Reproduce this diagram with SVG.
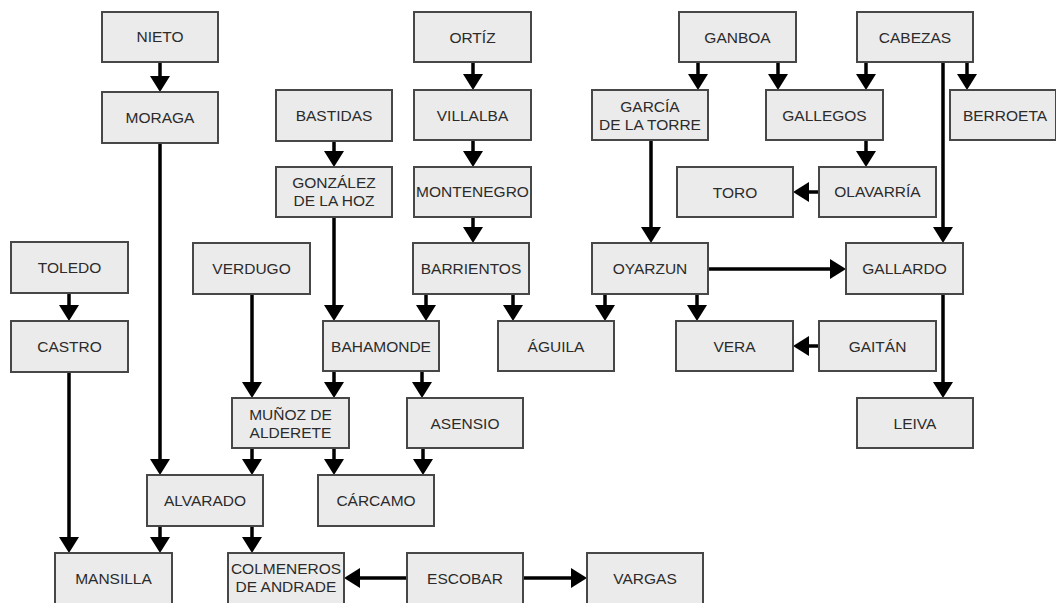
<svg xmlns="http://www.w3.org/2000/svg" width="1056" height="603" viewBox="0 0 1056 603">
<style>
.n rect{fill:#ebebeb;stroke:#474747;stroke-width:2}
.n text{font-family:"Liberation Sans",Arial,sans-serif;font-size:15.5px;fill:#2b2b2b;text-anchor:middle}
#connectors path{fill:none;stroke:#000;stroke-width:3.5;marker-end:url(#ah)}
</style>
<defs>
<marker id="ah" viewBox="0 0 16 20" refX="0" refY="10" markerWidth="16" markerHeight="20" markerUnits="userSpaceOnUse" orient="auto">
<path d="M0,0 L16,10 L0,20 z" fill="#000"/>
</marker>
</defs>
<rect width="1056" height="603" fill="#fff"/>
<g id="connectors">
<path d="M160,62 V76"/>
<path d="M160,143 V459"/>
<path d="M334,141 V151"/>
<path d="M334,217 V305"/>
<path d="M473,62 V74"/>
<path d="M473,140 V151"/>
<path d="M473,217 V227"/>
<path d="M426,294 V305"/>
<path d="M513,294 V305"/>
<path d="M605,294 V305"/>
<path d="M697,294 V305"/>
<path d="M708,269 H830"/>
<path d="M698,62 V74"/>
<path d="M778,62 V74"/>
<path d="M866,62 V74"/>
<path d="M967,62 V74"/>
<path d="M943,62 V227"/>
<path d="M866,140 V151"/>
<path d="M819,192 H809"/>
<path d="M651,140 V227"/>
<path d="M943,294 V382"/>
<path d="M819,346 H809"/>
<path d="M69,293 V305"/>
<path d="M69,372 V537"/>
<path d="M252,294 V382"/>
<path d="M334,371 V382"/>
<path d="M422,371 V382"/>
<path d="M252,448 V459"/>
<path d="M334,448 V459"/>
<path d="M423,448 V459"/>
<path d="M160,526 V537"/>
<path d="M252,526 V537"/>
<path d="M407,578 H360"/>
<path d="M523,578 H571"/>
</g>
<g id="nieto" class="n"><rect x="102" y="12" width="116" height="50"/><text x="160" y="42">NIETO</text></g>
<g id="moraga" class="n"><rect x="102" y="92" width="116" height="51"/><text x="160" y="123">MORAGA</text></g>
<g id="bastidas" class="n"><rect x="276" y="90" width="116" height="51"/><text x="334" y="121">BASTIDAS</text></g>
<g id="gonzalez" class="n"><rect x="276" y="167" width="116" height="50"/><text x="334" y="188">GONZÁLEZ</text><text x="334" y="206">DE LA HOZ</text></g>
<g id="ortiz" class="n"><rect x="414" y="12" width="117" height="50"/><text x="472.5" y="43">ORTÍZ</text></g>
<g id="villalba" class="n"><rect x="414" y="90" width="117" height="50"/><text x="472.5" y="121">VILLALBA</text></g>
<g id="montenegro" class="n"><rect x="414" y="167" width="117" height="50"/><text x="472.5" y="197">MONTENEGRO</text></g>
<g id="garcia" class="n"><rect x="592" y="90" width="116" height="50"/><text x="650" y="112">GARCÍA</text><text x="650" y="130">DE LA TORRE</text></g>
<g id="ganboa" class="n"><rect x="679" y="12" width="117" height="50"/><text x="737.5" y="43">GANBOA</text></g>
<g id="cabezas" class="n"><rect x="857" y="12" width="116" height="50"/><text x="915" y="43">CABEZAS</text></g>
<g id="gallegos" class="n"><rect x="766" y="90" width="117" height="50"/><text x="824.5" y="121">GALLEGOS</text></g>
<g id="berroeta" class="n"><rect x="950" y="90" width="106" height="50"/><text x="1005" y="121">BERROETA</text></g>
<g id="toro" class="n"><rect x="677" y="167" width="116" height="50"/><text x="735" y="198">TORO</text></g>
<g id="olavarria" class="n"><rect x="819" y="167" width="117" height="50"/><text x="877.5" y="197">OLAVARRÍA</text></g>
<g id="toledo" class="n"><rect x="11" y="242" width="117" height="51"/><text x="69.5" y="273">TOLEDO</text></g>
<g id="castro" class="n"><rect x="11" y="321" width="117" height="51"/><text x="69.5" y="352">CASTRO</text></g>
<g id="verdugo" class="n"><rect x="193" y="243" width="117" height="51"/><text x="251.5" y="274">VERDUGO</text></g>
<g id="barrientos" class="n"><rect x="413" y="243" width="116" height="51"/><text x="471" y="274">BARRIENTOS</text></g>
<g id="oyarzun" class="n"><rect x="592" y="243" width="116" height="51"/><text x="650" y="274">OYARZUN</text></g>
<g id="gallardo" class="n"><rect x="846" y="243" width="117" height="51"/><text x="904.5" y="274">GALLARDO</text></g>
<g id="bahamonde" class="n"><rect x="323" y="321" width="116" height="50"/><text x="381" y="352">BAHAMONDE</text></g>
<g id="aguila" class="n"><rect x="498" y="321" width="116" height="50"/><text x="556" y="352">ÁGUILA</text></g>
<g id="vera" class="n"><rect x="676" y="321" width="117" height="50"/><text x="734.5" y="352">VERA</text></g>
<g id="gaitan" class="n"><rect x="819" y="321" width="117" height="50"/><text x="877.5" y="352">GAITÁN</text></g>
<g id="munoz" class="n"><rect x="232" y="398" width="117" height="50"/><text x="290.5" y="420">MUÑOZ DE</text><text x="290.5" y="438">ALDERETE</text></g>
<g id="asensio" class="n"><rect x="407" y="398" width="116" height="50"/><text x="465" y="429">ASENSIO</text></g>
<g id="leiva" class="n"><rect x="857" y="398" width="116" height="50"/><text x="915" y="429">LEIVA</text></g>
<g id="alvarado" class="n"><rect x="147" y="475" width="116" height="51"/><text x="205" y="506">ALVARADO</text></g>
<g id="carcamo" class="n"><rect x="318" y="475" width="116" height="51"/><text x="376" y="506">CÁRCAMO</text></g>
<g id="mansilla" class="n"><rect x="55" y="553" width="117" height="52"/><text x="113.5" y="584">MANSILLA</text></g>
<g id="colmeneros" class="n"><rect x="228" y="553" width="116" height="52"/><text x="286" y="574">COLMENEROS</text><text x="286" y="592">DE ANDRADE</text></g>
<g id="escobar" class="n"><rect x="407" y="553" width="116" height="52"/><text x="465" y="584">ESCOBAR</text></g>
<g id="vargas" class="n"><rect x="587" y="553" width="116" height="52"/><text x="645" y="584">VARGAS</text></g>
</svg>
